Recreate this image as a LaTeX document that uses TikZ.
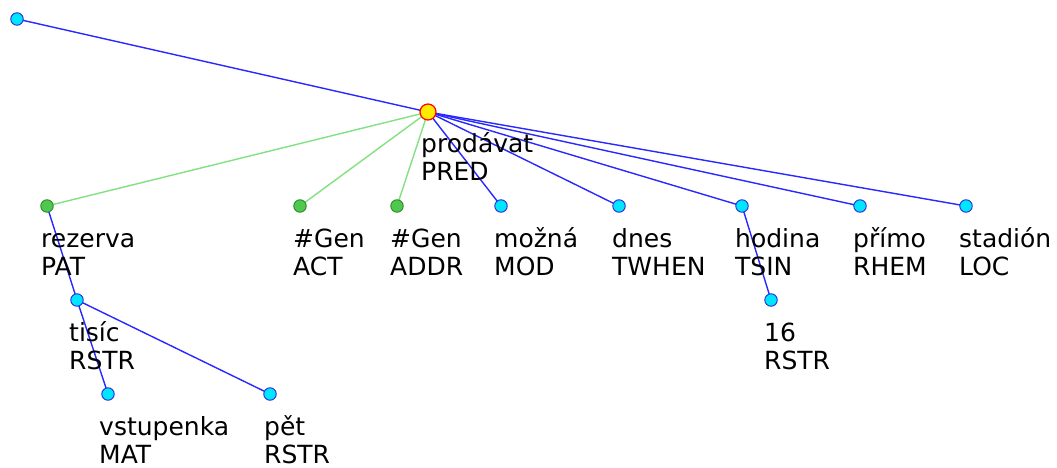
\documentclass[tikz,border=0pt]{standalone}
\usepackage{fontspec}
\setmainfont{DejaVu Sans}
\definecolor{edgeblue}{RGB}{40,40,255}
\definecolor{edgegreen}{RGB}{130,225,130}
\definecolor{nodecyan}{RGB}{0,230,255}
\definecolor{nodecyanb}{RGB}{40,40,220}
\definecolor{nodegreen}{RGB}{80,200,80}
\definecolor{nodegreenb}{RGB}{40,140,40}
\definecolor{nodeyellow}{RGB}{255,235,0}
\tikzset{
  cnode/.style={circle, fill=nodecyan, draw=nodecyanb, line width=0.9pt, minimum size=12.5pt, inner sep=0pt},
  gnode/.style={circle, fill=nodegreen, draw=nodegreenb, line width=0.9pt, minimum size=12.5pt, inner sep=0pt},
  ynode/.style={circle, fill=nodeyellow, draw=red, line width=1.2pt, minimum size=16pt, inner sep=0pt},
  bedge/.style={draw=edgeblue, line width=1.4pt},
  gedge/.style={draw=edgegreen, line width=1.4pt},
  lab/.style={anchor=base west, inner sep=0pt, font=\fontsize{25}{28}\selectfont}
}
\newcommand{\twolines}[2]{\begin{tabular}[t]{@{}l@{}}#1\\#2\end{tabular}}
\begin{document}
\begin{tikzpicture}[x=1pt,y=-1pt]
\useasboundingbox (0,0) rectangle (1057,468);
% node coordinates
\coordinate (root) at (17,19);
\coordinate (prod) at (428,112);
\coordinate (rez) at (47,206);
\coordinate (act) at (300,206);
\coordinate (addr) at (397,206);
\coordinate (mozna) at (501,206);
\coordinate (dnes) at (619,206);
\coordinate (hod) at (742,206);
\coordinate (primo) at (860,206);
\coordinate (stad) at (966,206);
\coordinate (tis) at (77,300);
\coordinate (vst) at (108,394);
\coordinate (pet) at (270,394);
\coordinate (sest) at (771,300);
% edges
\draw[bedge] (root) -- (prod);
\draw[gedge] (prod) -- (rez);
\draw[gedge] (prod) -- (act);
\draw[gedge] (prod) -- (addr);
\draw[bedge] (prod) -- (mozna);
\draw[bedge] (prod) -- (dnes);
\draw[bedge] (prod) -- (hod);
\draw[bedge] (prod) -- (primo);
\draw[bedge] (prod) -- (stad);
\draw[bedge] (rez) -- (tis);
\draw[bedge] (tis) -- (vst);
\draw[bedge] (tis) -- (pet);
\draw[bedge] (hod) -- (sest);
% labels
\node[lab] (lprod) at ([shift={(-7,41)}]prod) {\twolines{prodávat}{PRED}};
\node[lab] (lrez) at ([shift={(-6,41)}]rez) {\twolines{rezerva}{PAT}};
\node[lab] (lact) at ([shift={(-7,41)}]act) {\twolines{\#Gen}{ACT}};
\node[lab] (laddr) at ([shift={(-7,41)}]addr) {\twolines{\#Gen}{ADDR}};
\node[lab] (lmozna) at ([shift={(-7,41)}]mozna) {\twolines{možná}{MOD}};
\node[lab] (ldnes) at ([shift={(-7,41)}]dnes) {\twolines{dnes}{TWHEN}};
\node[lab] (lhod) at ([shift={(-7,41)}]hod) {\twolines{hodina}{TSIN}};
\node[lab] (lprimo) at ([shift={(-7,41)}]primo) {\twolines{přímo}{RHEM}};
\node[lab] (lstad) at ([shift={(-7,41)}]stad) {\twolines{stadión}{LOC}};
\node[lab] (ltis) at ([shift={(-8,41)}]tis) {\twolines{tisíc}{RSTR}};
\node[lab] (lvst) at ([shift={(-9,41)}]vst) {\twolines{vstupenka}{MAT}};
\node[lab] (lpet) at ([shift={(-6,41)}]pet) {\twolines{pět}{RSTR}};
\node[lab] (lsest) at ([shift={(-7,41)}]sest) {\twolines{16}{RSTR}};
% vertices
\node[cnode] (nroot) at (root) {};
\node[ynode] (nprod) at (prod) {};
\node[gnode] (nrez) at (rez) {};
\node[gnode] (nact) at (act) {};
\node[gnode] (naddr) at (addr) {};
\node[cnode] (nmozna) at (mozna) {};
\node[cnode] (ndnes) at (dnes) {};
\node[cnode] (nhod) at (hod) {};
\node[cnode] (nprimo) at (primo) {};
\node[cnode] (nstad) at (stad) {};
\node[cnode] (ntis) at (tis) {};
\node[cnode] (nvst) at (vst) {};
\node[cnode] (npet) at (pet) {};
\node[cnode] (nsest) at (sest) {};
\end{tikzpicture}
\end{document}
